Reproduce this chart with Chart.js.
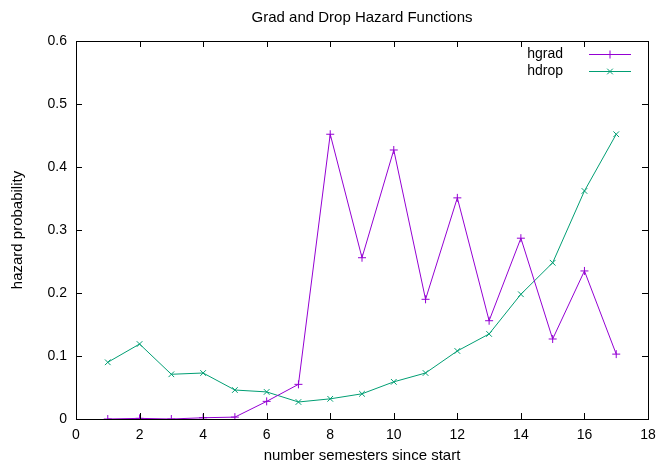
<!DOCTYPE html>
<html>
<head>
<meta charset="utf-8">
<title>Grad and Drop Hazard Functions</title>
<script src="https://cdn.jsdelivr.net/npm/chart.js@4.4.1/dist/chart.umd.min.js"></script>
<style>
  body { margin: 0; background: #fff; }
  canvas { display: block; }
</style>
</head>
<body>
<canvas id="hazard" width="657" height="464"></canvas>
<script>
const semesters = [1, 2, 3, 4, 5, 6, 7, 8, 9, 10, 11, 12, 13, 14, 15, 16, 17];
const hgrad = [0, 0.001, 0, 0.002, 0.003, 0.028, 0.055, 0.452, 0.256, 0.427, 0.19, 0.351, 0.156, 0.287, 0.127, 0.235, 0.103];
const hdrop = [0.09, 0.119, 0.071, 0.073, 0.046, 0.043, 0.027, 0.032, 0.040, 0.059, 0.073, 0.108, 0.135, 0.198, 0.248, 0.362, 0.452];
const xTicks = [0, 2, 4, 6, 8, 10, 12, 14, 16, 18];
const yTicks = [0, 0.1, 0.2, 0.3, 0.4, 0.5, 0.6];

const FONT = '"Liberation Sans", Arial, sans-serif';
const PURPLE = '#9400d3';
const GREEN = '#009e73';

function pts(ys) {
  return semesters.map((s, i) => ({ x: s, y: ys[i] }));
}

// gnuplot-ish frame: box border, inward ticks on all sides, titles, key inside
const gnuFrame = {
  id: 'gnuFrame',
  afterDraw(chart) {
    const ctx = chart.ctx;
    const a = chart.chartArea;
    const xs = chart.scales.x, ys = chart.scales.y;
    ctx.save();
    ctx.strokeStyle = '#000';
    ctx.lineWidth = 1;
    ctx.strokeRect(Math.round(a.left) + 0.5, Math.round(a.top) + 0.5,
      Math.round(a.right - a.left), Math.round(a.bottom - a.top));
    ctx.beginPath();
    xTicks.forEach(v => {
      const px = Math.round(xs.getPixelForValue(v)) + 0.5;
      ctx.moveTo(px, a.bottom); ctx.lineTo(px, a.bottom - 6);
      ctx.moveTo(px, a.top); ctx.lineTo(px, a.top + 6);
    });
    yTicks.forEach(v => {
      const py = Math.round(ys.getPixelForValue(v)) + 0.5;
      ctx.moveTo(a.left, py); ctx.lineTo(a.left + 6, py);
      ctx.moveTo(a.right, py); ctx.lineTo(a.right - 6, py);
    });
    ctx.stroke();

    ctx.fillStyle = '#000';
    ctx.font = '15px ' + FONT;
    ctx.textAlign = 'center';
    ctx.textBaseline = 'middle';
    ctx.fillText('Grad and Drop Hazard Functions', (a.left + a.right) / 2, 18);
    ctx.fillText('number semesters since start', (a.left + a.right) / 2, 456);
    ctx.save();
    ctx.translate(18, (a.top + a.bottom) / 2);
    ctx.rotate(-Math.PI / 2);
    ctx.fillText('hazard probability', 0, 0);
    ctx.restore();

    // key
    ctx.font = '14px ' + FONT;
    ctx.textAlign = 'right';
    chart.data.datasets.forEach((ds, i) => {
      const y = 54 + i * 17;
      ctx.fillStyle = '#000';
      ctx.fillText(ds.label, 563, y);
      ctx.strokeStyle = ds.borderColor;
      ctx.lineWidth = 1;
      ctx.beginPath();
      ctx.moveTo(589, y + 0.5); ctx.lineTo(631, y + 0.5);
      ctx.stroke();
      Chart.helpers.drawPoint(ctx, {
        pointStyle: ds.pointStyle, radius: ds.pointRadius, borderWidth: 1
      }, 610, y + 0.5);
    });
    ctx.restore();
  }
};

new Chart(document.getElementById('hazard'), {
  type: 'line',
  data: {
    datasets: [
      {
        label: 'hgrad', data: pts(hgrad), borderColor: PURPLE, backgroundColor: PURPLE,
        borderWidth: 1, pointStyle: 'cross', pointRadius: 4, pointBorderWidth: 1, tension: 0
      },
      {
        label: 'hdrop', data: pts(hdrop), borderColor: GREEN, backgroundColor: GREEN,
        borderWidth: 1, pointStyle: 'crossRot', pointRadius: 4, pointBorderWidth: 1, tension: 0
      }
    ]
  },
  options: {
    responsive: false,
    animation: false,
    layout: { padding: { top: 41, right: 9, left: 0, bottom: 0 } },
    plugins: { legend: { display: false }, tooltip: { enabled: false }, title: { display: false } },
    scales: {
      x: {
        type: 'linear', min: 0, max: 18,
        afterBuildTicks: s => { s.ticks = xTicks.map(v => ({ value: v })); },
        afterFit: s => { s.height = 45; s.paddingRight = 0; s.paddingLeft = 0; },
        grid: { display: false, drawTicks: false },
        border: { display: false },
        ticks: { color: '#000', font: { family: FONT, size: 14 }, padding: 8, maxRotation: 0 }
      },
      y: {
        min: 0, max: 0.6,
        afterBuildTicks: s => { s.ticks = yTicks.map(v => ({ value: v })); },
        afterFit: s => { s.width = 76; s.paddingTop = 0; s.paddingBottom = 0; },
        grid: { display: false, drawTicks: false },
        border: { display: false },
        ticks: {
          color: '#000', font: { family: FONT, size: 14 }, padding: 9,
          callback: v => v === 0 ? '0' : v.toFixed(1)
        }
      }
    }
  },
  plugins: [gnuFrame]
});
</script>
</body>
</html>
